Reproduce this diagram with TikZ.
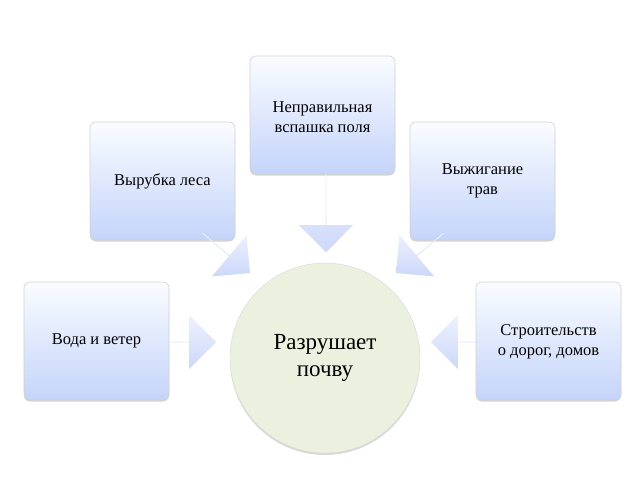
\documentclass[tikz,border=0pt]{standalone}
\usepackage{fontspec}
\setmainfont{Liberation Serif}
\usetikzlibrary{shapes.arrows,shadows}
\definecolor{bxb}{RGB}{196,212,250}
\definecolor{bxt}{RGB}{250,252,255}
\definecolor{ar1}{RGB}{238,242,254}
\definecolor{ar2}{RGB}{204,216,250}
\definecolor{cir}{RGB}{236,240,222}
\begin{document}
\begin{tikzpicture}[x=1pt,y=-1pt,
 box/.style={draw=gray!35,line width=0.6pt,rounded corners=6pt,top color=bxt,bottom color=bxb,minimum width=145pt,minimum height=118pt,drop shadow={opacity=0.35,shadow xshift=0pt,shadow yshift=-1.5pt},inner sep=0pt,align=center,font=\fontsize{16.5}{20}\selectfont},
 txt/.style={align=center,font=\fontsize{16.5}{20}\selectfont},
 arr/.style={single arrow,draw=none,top color=ar1,bottom color=ar2,single arrow head extend=11pt,minimum width=54pt,inner sep=0pt,single arrow tip angle=90}]
\useasboundingbox (0,0) rectangle (640,480);
\node[box] (t) at (322.5,115) {};
\node[txt] (tt) at (322.5,117) {Неправильная\\вспашка поля};
\node[box] (lt) at (162.5,181) {Вырубка леса};
\node[box] (rt) at (482.5,181) {};
\node[txt] (rtt) at (482.5,181) {Выжигание\\трав};
\node[box] (l) at (96.5,341) {Вода и ветер};
\node[box] (r) at (548.5,341) {};
\node[txt] (rtx) at (548.5,342) {Строительств\\о дорог, домов};
\node[circle,minimum size=190pt,inner sep=0pt,fill=cir,draw=gray!30,drop shadow={opacity=0.3,shadow xshift=0pt,shadow yshift=-2pt},align=center,font=\fontsize{23}{27}\selectfont] (c) at (325,358) {Разрушает\\почву};
\node[arr,minimum height=78pt,rotate=-90] (a1) at (326,213) {};
\node[arr,minimum height=62pt,rotate=-40] (a2) at (226,253) {};
\node[arr,minimum height=62pt,rotate=-140] (a3) at (420,253) {};
\node[arr,minimum height=48pt] (a4) at (192,342) {};
\node[arr,minimum height=48pt,rotate=180] (a5) at (455,342) {};
\end{tikzpicture}
\end{document}
